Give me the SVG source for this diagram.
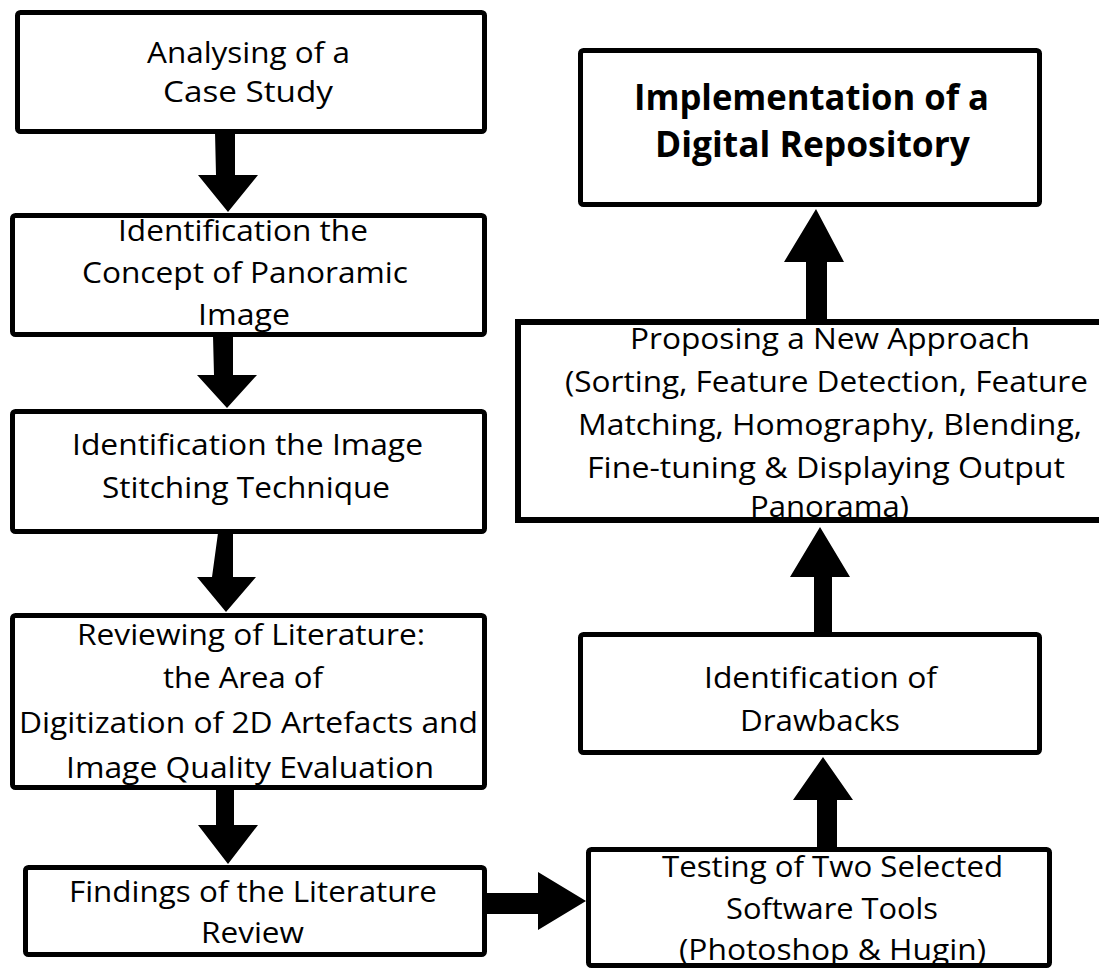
<svg xmlns="http://www.w3.org/2000/svg" width="1099" height="968" viewBox="0 0 1099 968">
  <style>
    .box { fill: #ffffff; stroke: #000000; stroke-width: 5; }
    .box-sq { fill: #ffffff; stroke: #000000; stroke-width: 6; }
    .lbl { font-family: "Open Sans", "Noto Sans", "Liberation Sans", sans-serif; font-size: 30px; fill: #000000; text-anchor: middle; }
    .lbl-b { font-family: "Open Sans", "Noto Sans", "Liberation Sans", sans-serif; font-size: 36px; font-weight: bold; fill: #000000; text-anchor: middle; }
    .arrow { fill: #000000; stroke: none; }
  </style>
  <rect x="0" y="0" width="1099" height="968" fill="#ffffff"/>

  <!-- block arrows between steps -->
  <g id="connectors">
    <polygon class="arrow" points="215,132 235,132 235,175 258,175 228,212 198,175 216,175"/>
    <polygon class="arrow" points="213,336 233,336 233,375 257,375 227,408 197,375 214,375"/>
    <polygon class="arrow" points="218,533 233,533 233,577 256,577 226,612 197,577 212,577"/>
    <polygon class="arrow" points="216,789 234,789 234,825 258,825 228,864 198,825 216,825"/>
    <polygon class="arrow" points="486,893 538,893 538,872 586,901 538,930 538,914 486,914"/>
    <polygon class="arrow" points="817,848 837,848 837,800 853,800 823,757 793,800 817,800"/>
    <polygon class="arrow" points="814,633 832,633 832,577 850,577 820,527 790,577 814,577"/>
    <polygon class="arrow" points="806,321 827,321 827,262 844,262 816,209 784,262 806,262"/>
  </g>

  <g id="case-study">
    <rect class="box" x="17.5" y="12.5" width="467" height="119" rx="3"/>
    <text class="lbl" x="248.5" y="63" textLength="203" lengthAdjust="spacingAndGlyphs">Analysing of a</text>
    <text class="lbl" x="248" y="102" textLength="170" lengthAdjust="spacingAndGlyphs">Case Study</text>
  </g>

  <g id="panoramic-concept">
    <rect class="box" x="12.5" y="215.5" width="472" height="119" rx="3"/>
    <text class="lbl" x="243" y="241" textLength="250" lengthAdjust="spacingAndGlyphs">Identification the</text>
    <text class="lbl" x="245" y="283" textLength="326" lengthAdjust="spacingAndGlyphs">Concept of Panoramic</text>
    <text class="lbl" x="244" y="325" textLength="92" lengthAdjust="spacingAndGlyphs">Image</text>
  </g>

  <g id="stitching-technique">
    <rect class="box" x="12.5" y="411.5" width="472" height="120" rx="3"/>
    <text class="lbl" x="247.5" y="455" textLength="351" lengthAdjust="spacingAndGlyphs">Identification the Image</text>
    <text class="lbl" x="246" y="498" textLength="288" lengthAdjust="spacingAndGlyphs">Stitching Technique</text>
  </g>

  <g id="literature-review">
    <rect class="box" x="12.5" y="615.5" width="472" height="172" rx="3"/>
    <text class="lbl" x="251" y="645" textLength="348" lengthAdjust="spacingAndGlyphs">Reviewing of Literature:</text>
    <text class="lbl" x="243" y="688" textLength="160" lengthAdjust="spacingAndGlyphs">the Area of</text>
    <text class="lbl" x="248.5" y="733" textLength="459" lengthAdjust="spacingAndGlyphs">Digitization of 2D Artefacts and</text>
    <text class="lbl" x="250" y="778" textLength="368" lengthAdjust="spacingAndGlyphs">Image Quality Evaluation</text>
  </g>

  <g id="findings">
    <rect class="box" x="25.5" y="867.5" width="459" height="87" rx="3"/>
    <text class="lbl" x="253" y="902" textLength="368" lengthAdjust="spacingAndGlyphs">Findings of the Literature</text>
    <text class="lbl" x="252.5" y="943" textLength="103" lengthAdjust="spacingAndGlyphs">Review</text>
  </g>

  <g id="software-testing">
    <rect class="box" x="588.5" y="849.5" width="461" height="116" rx="3"/>
    <text class="lbl" x="832.5" y="877" textLength="341" lengthAdjust="spacingAndGlyphs">Testing of Two Selected</text>
    <text class="lbl" x="832" y="919" textLength="212" lengthAdjust="spacingAndGlyphs">Software Tools</text>
    <text class="lbl" x="832.5" y="960" textLength="307" lengthAdjust="spacingAndGlyphs">(Photoshop &amp; Hugin)</text>
  </g>

  <g id="drawbacks">
    <rect class="box" x="580.5" y="634.5" width="459" height="118" rx="3"/>
    <text class="lbl" x="820.5" y="688" textLength="233" lengthAdjust="spacingAndGlyphs">Identification of</text>
    <text class="lbl" x="820" y="731" textLength="160" lengthAdjust="spacingAndGlyphs">Drawbacks</text>
  </g>

  <g id="new-approach">
    <rect class="box-sq" x="518" y="322" width="600" height="198"/>
    <text class="lbl" x="830" y="349" textLength="400" lengthAdjust="spacingAndGlyphs">Proposing a New Approach</text>
    <text class="lbl" x="826.5" y="392" textLength="523" lengthAdjust="spacingAndGlyphs">(Sorting, Feature Detection, Feature</text>
    <text class="lbl" x="830" y="435" textLength="504" lengthAdjust="spacingAndGlyphs">Matching, Homography, Blending,</text>
    <text class="lbl" x="826" y="478" textLength="478" lengthAdjust="spacingAndGlyphs">Fine-tuning &amp; Displaying Output</text>
    <text class="lbl" x="829.5" y="517" textLength="159" lengthAdjust="spacingAndGlyphs">Panorama)</text>
  </g>

  <g id="digital-repository">
    <rect class="box" x="580.5" y="50.5" width="459" height="154" rx="3"/>
    <text class="lbl-b" x="811.5" y="110" textLength="355" lengthAdjust="spacingAndGlyphs">Implementation of a</text>
    <text class="lbl-b" x="812.5" y="157" textLength="315" lengthAdjust="spacingAndGlyphs">Digital Repository</text>
  </g>
</svg>
